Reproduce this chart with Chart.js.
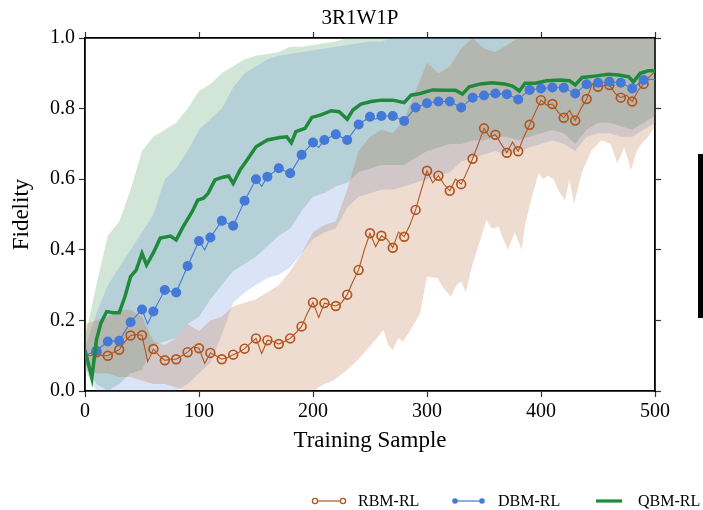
<!DOCTYPE html>
<html>
<head>
<meta charset="utf-8">
<title>3R1W1P</title>
<script src="https://cdn.jsdelivr.net/npm/chart.js@4.4.0/dist/chart.umd.min.js"></script>
<style>
  html, body { margin: 0; padding: 0; background: #fff; }
  #wrap { position: relative; width: 703px; height: 510px; }
  #sideBar { position: absolute; left: 698px; top: 154px; width: 5px; height: 164px; background: #000; }
</style>
</head>
<body>
<div id="wrap">
  <canvas id="mainChart" width="703" height="510"></canvas>
  <div id="sideBar"></div>
</div>
<script>
// Chart data

const titleText = '3R1W1P';
const xTicks = [0, 100, 200, 300, 400, 500];
const yTicks = [0.0, 0.2, 0.4, 0.6, 0.8, 1.0];
const seriesNames = ['RBM-RL', 'DBM-RL', 'QBM-RL'];

// RBM-RL mean, one value every 5 training samples (0..500)
const rbmSamples = Array.from({ length: 101 }, (_, i) => i * 5);
const rbmFidelity = [
  0.10, 0.10, 0.11, 0.10, 0.10, 0.11, 0.117, 0.14, 0.157, 0.16,
  0.158, 0.083, 0.119, 0.10, 0.087, 0.09, 0.09, 0.10, 0.11, 0.125,
  0.121, 0.078, 0.108, 0.10, 0.09, 0.095, 0.103, 0.11, 0.12, 0.135,
  0.149, 0.106, 0.144, 0.14, 0.133, 0.14, 0.149, 0.165, 0.183, 0.22,
  0.251, 0.208, 0.249, 0.245, 0.241, 0.25, 0.273, 0.31, 0.343, 0.40,
  0.447, 0.409, 0.44, 0.43, 0.406, 0.45, 0.437, 0.47, 0.513, 0.57,
  0.624, 0.59, 0.61, 0.585, 0.567, 0.60, 0.586, 0.62, 0.658, 0.70,
  0.744, 0.72, 0.726, 0.70, 0.675, 0.705, 0.679, 0.72, 0.754, 0.79,
  0.824, 0.81, 0.813, 0.79, 0.774, 0.795, 0.766, 0.80, 0.827, 0.87,
  0.862, 0.865, 0.867, 0.843, 0.831, 0.838, 0.820, 0.85, 0.870, 0.89,
  0.905
];

// DBM-RL mean
const dbmSamples = [
  0, 10, 20, 30, 40, 50, 55, 60, 70, 80, 90, 100, 105, 110, 120, 130, 140, 150, 155, 160,
  170, 180, 190, 200, 205, 210, 220, 230, 240, 250, 255, 260, 270, 280, 290, 300, 310, 320, 330, 340,
  350, 360, 370, 380, 390, 400, 410, 420, 430, 440, 450, 460, 470, 480, 490, 500
];
const dbmFidelity = [
  0.10, 0.114, 0.14, 0.142, 0.195, 0.231, 0.19, 0.225, 0.286, 0.279, 0.354, 0.425, 0.40, 0.435, 0.482, 0.468, 0.539, 0.600, 0.58, 0.607,
  0.631, 0.617, 0.669, 0.704, 0.69, 0.711, 0.727, 0.711, 0.755, 0.777, 0.77, 0.779, 0.779, 0.765, 0.803, 0.815, 0.820, 0.820, 0.803, 0.831,
  0.837, 0.843, 0.841, 0.826, 0.853, 0.857, 0.860, 0.859, 0.843, 0.869, 0.873, 0.876, 0.873, 0.857, 0.881, 0.883
];

// QBM-RL mean
const qbmSamples = [
  0, 6, 10, 14, 19, 25, 30, 35, 40, 45, 50, 54, 60, 66, 75, 80, 86, 94, 99, 104,
  108, 114, 120, 126, 130, 136, 142, 150, 160, 171, 177, 181, 185, 193, 199, 207, 216, 223, 230, 235,
  242, 251, 260, 270, 280, 286, 294, 305, 315, 325, 331, 337, 347, 357, 368, 375, 381, 386, 395, 405,
  417, 425, 430, 436, 447, 459, 468, 477, 481, 487, 494, 500
];
const qbmFidelity = [
  0.116, 0.037, 0.144, 0.193, 0.225, 0.222, 0.222, 0.267, 0.324, 0.343, 0.390, 0.357, 0.392, 0.433, 0.439, 0.428, 0.465, 0.508, 0.541, 0.546,
  0.560, 0.598, 0.605, 0.609, 0.588, 0.626, 0.654, 0.692, 0.711, 0.718, 0.720, 0.703, 0.735, 0.744, 0.775, 0.782, 0.794, 0.791, 0.770, 0.796,
  0.813, 0.820, 0.824, 0.824, 0.817, 0.838, 0.843, 0.853, 0.852, 0.852, 0.841, 0.862, 0.870, 0.873, 0.870, 0.864, 0.850, 0.872, 0.872, 0.879,
  0.881, 0.879, 0.867, 0.888, 0.892, 0.897, 0.895, 0.890, 0.876, 0.900, 0.907, 0.907
];

// Spread bands, one value every 10 training samples (0..500)
const bandSamples = Array.from({ length: 51 }, (_, i) => i * 10);
const rbmUpper = [
  0.19, 0.20, 0.21, 0.23, 0.23, 0.21, 0.14, 0.13, 0.15, 0.19,
  0.17, 0.20, 0.21, 0.24, 0.25, 0.26, 0.28, 0.30, 0.34, 0.39,
  0.45, 0.47, 0.48, 0.57, 0.68, 0.72, 0.74, 0.73, 0.77, 0.85,
  0.93, 0.90, 0.92, 0.97, 1.0, 0.97, 0.96, 0.98, 1.0, 1.0,
  1.0, 1.0, 1.0, 1.0, 1.0, 1.0, 1.0, 1.0, 1.0, 1.0,
  1.0
];
// the RBM lower edge is spiky, so it has its own sample positions
const rbmLowerSamples = [
  0, 10, 20, 30, 40, 50, 60, 70, 80, 90, 200, 210, 218, 230, 240, 247, 256, 262, 266, 270,
  275, 279, 285, 294, 300, 309, 315, 321, 326, 330, 334, 340, 345, 352, 357, 363, 367, 371, 377, 383,
  386, 392, 398, 402, 406, 411, 415, 421, 425, 429, 436, 444, 453, 461, 467, 473, 479, 484, 488, 494,
  500
];
const rbmLower = [
  0.06, 0.05, 0.05, 0.04, 0.04, 0.03, 0.02, 0.02, 0.01, 0.0, 0.0, 0.02, 0.03, 0.06, 0.09, 0.116, 0.15, 0.173, 0.13, 0.116,
  0.15, 0.14, 0.17, 0.22, 0.324, 0.32, 0.29, 0.267, 0.30, 0.31, 0.28, 0.36, 0.409, 0.484, 0.46, 0.465, 0.43, 0.40, 0.45, 0.40,
  0.47, 0.55, 0.617, 0.60, 0.61, 0.60, 0.57, 0.54, 0.60, 0.53, 0.62, 0.68, 0.71, 0.70, 0.645, 0.69, 0.626, 0.68, 0.70, 0.72,
  0.749
];
const dbmUpper = [
  0.12, 0.22, 0.30, 0.35, 0.40, 0.45, 0.50, 0.60, 0.63, 0.68,
  0.74, 0.77, 0.80, 0.86, 0.90, 0.92, 0.94, 0.95, 0.955, 0.96,
  0.965, 0.97, 0.975, 0.98, 0.985, 0.99, 0.99, 1.0, 1.0, 1.0,
  1.0, 1.0, 1.0, 1.0, 1.0, 1.0, 1.0, 1.0, 1.0, 1.0,
  1.0, 1.0, 1.0, 1.0, 1.0, 1.0, 1.0, 1.0, 1.0, 1.0,
  1.0
];
const dbmLower = [
  0.06, 0.0, 0.0, 0.0, 0.0, 0.0, 0.0, 0.0, 0.0, 0.02,
  0.05, 0.08, 0.16, 0.25, 0.28, 0.30, 0.32, 0.33, 0.35, 0.39,
  0.43, 0.45, 0.46, 0.52, 0.55, 0.56, 0.57, 0.57, 0.58, 0.59,
  0.60, 0.61, 0.62, 0.65, 0.66, 0.67, 0.68, 0.67, 0.68, 0.69,
  0.70, 0.71, 0.70, 0.68, 0.72, 0.73, 0.73, 0.72, 0.72, 0.74,
  0.76
];
const qbmUpper = [
  0.15, 0.30, 0.44, 0.48, 0.57, 0.68, 0.72, 0.74, 0.76, 0.80,
  0.85, 0.87, 0.90, 0.92, 0.94, 0.95, 0.955, 0.96, 0.975, 0.975,
  0.98, 0.985, 0.99, 1.0, 1.0, 1.0, 1.0, 1.0, 1.0, 1.0,
  1.0, 1.0, 1.0, 1.0, 1.0, 1.0, 1.0, 1.0, 1.0, 1.0,
  1.0, 1.0, 1.0, 1.0, 1.0, 1.0, 1.0, 1.0, 1.0, 1.0,
  1.0
];
const qbmLower = [
  0.08, 0.02, 0.0, 0.02, 0.05, 0.06, 0.13, 0.14, 0.15, 0.19,
  0.21, 0.26, 0.30, 0.34, 0.36, 0.38, 0.41, 0.44, 0.46, 0.51,
  0.55, 0.56, 0.58, 0.59, 0.62, 0.63, 0.64, 0.64, 0.64, 0.66,
  0.68, 0.69, 0.70, 0.70, 0.71, 0.71, 0.72, 0.72, 0.71, 0.72,
  0.73, 0.74, 0.73, 0.70, 0.74, 0.76, 0.76, 0.75, 0.74, 0.76,
  0.78
];

// Colours
const rbmColor = '#b3561e';
const dbmColor = '#4479d8';
const qbmColor = '#1f8a3c';
const rbmFill = 'rgba(172, 82, 22, 0.2)';
const dbmFill = 'rgba(70, 120, 208, 0.2)';
const qbmFill = 'rgba(28, 130, 58, 0.2)';

const FONT = "'Liberation Serif', 'Times New Roman', serif";
Chart.defaults.font.family = FONT;
Chart.defaults.color = '#000';

function pairs(xs, ys) {
  return xs.map((x, i) => ({ x: x, y: ys[i] }));
}

// markers every 10 samples, as in the figure
function markerRadius(r) {
  return function(ctx) {
    const x = ctx.raw ? ctx.raw.x : 0;
    return (x % 10 === 0 && x > 0 && x < 500) ? r : 0;
  };
}

function band(upper, lower, color) {
  return [
    {
      label: 'band',
      data: upper,
      borderColor: 'rgba(0,0,0,0)',
      borderWidth: 0,
      pointRadius: 0,
      backgroundColor: color,
      fill: '+1',
      order: 10
    },
    {
      label: 'band',
      data: lower,
      borderColor: 'rgba(0,0,0,0)',
      borderWidth: 0,
      pointRadius: 0,
      fill: false,
      order: 10
    }
  ];
}

// Draws title, axis titles and the legend
const decorPlugin = {
  id: 'decor',
  afterDraw(chart) {
    const { ctx, chartArea } = chart;
    ctx.save();
    ctx.fillStyle = '#000';
    ctx.textAlign = 'center';
    ctx.textBaseline = 'middle';

    ctx.font = '21px ' + FONT;
    ctx.fillText(titleText, 360, 18);

    ctx.font = '23px ' + FONT;
    ctx.fillText('Training Sample', (chartArea.left + chartArea.right) / 2, 441);

    ctx.save();
    ctx.translate(22, (chartArea.top + chartArea.bottom) / 2);
    ctx.rotate(-Math.PI / 2);
    ctx.fillText('Fidelity', 0, 0);
    ctx.restore();

    // legend
    const legendY = 501;
    const items = [
      { name: seriesNames[0], x0: 315, x1: 343, tx: 358, color: rbmColor, width: 1.2, marker: 'ring' },
      { name: seriesNames[1], x0: 455, x1: 482, tx: 498, color: dbmColor, width: 1.2, marker: 'dot' },
      { name: seriesNames[2], x0: 596, x1: 622, tx: 638, color: qbmColor, width: 3.2, marker: null }
    ];
    ctx.font = '16px ' + FONT;
    ctx.textAlign = 'left';
    items.forEach(item => {
      ctx.strokeStyle = item.color;
      ctx.lineWidth = item.width;
      ctx.beginPath();
      ctx.moveTo(item.x0, legendY);
      ctx.lineTo(item.x1, legendY);
      ctx.stroke();
      [item.x0, item.x1].forEach(px => {
        if (item.marker === 'ring') {
          ctx.fillStyle = '#fff';
          ctx.lineWidth = 1.3;
          ctx.beginPath();
          ctx.arc(px, legendY, 2.6, 0, Math.PI * 2);
          ctx.fill();
          ctx.stroke();
        } else if (item.marker === 'dot') {
          ctx.fillStyle = item.color;
          ctx.beginPath();
          ctx.arc(px, legendY, 2.8, 0, Math.PI * 2);
          ctx.fill();
        }
      });
      ctx.fillStyle = '#000';
      ctx.fillText(item.name, item.tx, legendY + 1);
    });
    ctx.restore();
  }
};

const gridOpts = {
  drawOnChartArea: false,
  drawTicks: true,
  tickLength: 6,
  tickColor: '#333',
  tickWidth: 1.2
};
const borderOpts = { display: true, color: '#000', width: 1.8 };

const ctx = document.getElementById('mainChart').getContext('2d');
const chart = new Chart(ctx, {
  type: 'line',
  data: {
    datasets: [
      ...band(pairs(bandSamples, rbmUpper), pairs(rbmLowerSamples, rbmLower), rbmFill),
      ...band(pairs(bandSamples, dbmUpper), pairs(bandSamples, dbmLower), dbmFill),
      ...band(pairs(bandSamples, qbmUpper), pairs(bandSamples, qbmLower), qbmFill),
      {
        label: seriesNames[0],
        data: pairs(rbmSamples, rbmFidelity),
        borderColor: rbmColor,
        borderWidth: 1.1,
        pointStyle: 'circle',
        pointRadius: markerRadius(4.4),
        pointBorderWidth: 1.7,
        pointBorderColor: rbmColor,
        pointBackgroundColor: 'rgba(0,0,0,0)',
        fill: false,
        tension: 0,
        order: 3
      },
      {
        label: seriesNames[1],
        data: pairs(dbmSamples, dbmFidelity),
        borderColor: dbmColor,
        borderWidth: 1.1,
        pointStyle: 'circle',
        pointRadius: markerRadius(5),
        pointBorderWidth: 0,
        pointBorderColor: dbmColor,
        pointBackgroundColor: dbmColor,
        fill: false,
        tension: 0,
        order: 2
      },
      {
        label: seriesNames[2],
        data: pairs(qbmSamples, qbmFidelity),
        borderColor: qbmColor,
        borderWidth: 3.5,
        pointRadius: 0,
        fill: false,
        tension: 0,
        order: 1
      }
    ]
  },
  options: {
    responsive: false,
    animation: false,
    devicePixelRatio: 1,
    layout: { padding: 0 },
    plugins: {
      legend: { display: false },
      title: { display: false },
      tooltip: { enabled: false }
    },
    scales: {
      x: {
        type: 'linear',
        position: 'bottom',
        min: xTicks[0],
        max: xTicks[xTicks.length - 1],
        afterBuildTicks: axis => { axis.ticks = xTicks.map(v => ({ value: v })); },
        ticks: { font: { size: 20 }, color: '#000', padding: 3, maxRotation: 0 },
        grid: gridOpts,
        border: borderOpts,
        afterFit: scale => { scale.height = 119; }
      },
      xTop: {
        type: 'linear',
        position: 'top',
        min: xTicks[0],
        max: xTicks[xTicks.length - 1],
        afterBuildTicks: axis => { axis.ticks = xTicks.map(v => ({ value: v })); },
        ticks: { display: false },
        grid: gridOpts,
        border: borderOpts,
        afterFit: scale => { scale.height = 38; }
      },
      y: {
        type: 'linear',
        position: 'left',
        min: yTicks[0],
        max: yTicks[yTicks.length - 1],
        afterBuildTicks: axis => { axis.ticks = yTicks.map(v => ({ value: v })); },
        ticks: {
          font: { size: 20 },
          color: '#000',
          padding: 4,
          callback: value => value.toFixed(1)
        },
        grid: gridOpts,
        border: borderOpts,
        afterFit: scale => { scale.width = 85; }
      },
      yRight: {
        type: 'linear',
        position: 'right',
        min: yTicks[0],
        max: yTicks[yTicks.length - 1],
        afterBuildTicks: axis => { axis.ticks = yTicks.map(v => ({ value: v })); },
        ticks: { display: false },
        grid: gridOpts,
        border: borderOpts,
        afterFit: scale => { scale.width = 48; }
      }
    }
  },
  plugins: [decorPlugin]
});
</script>
</body>
</html>
